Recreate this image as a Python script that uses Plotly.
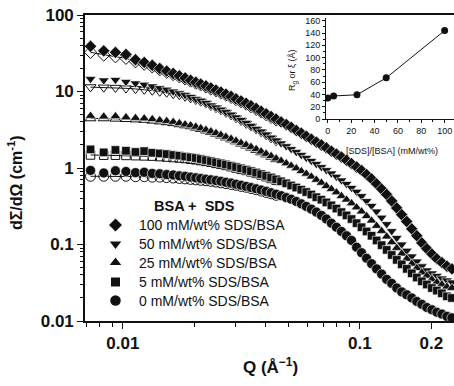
import plotly.graph_objects as go

# ---------------- data ----------------
q = [0.0073, 0.0083, 0.0093, 0.0103, 0.0113, 0.0123, 0.0133, 0.0143, 0.0153, 0.0163,
     0.0173, 0.0183, 0.0193, 0.0203, 0.0213, 0.0224, 0.0235, 0.0247, 0.0259, 0.0272,
     0.0286, 0.0300, 0.0315, 0.0331, 0.0347, 0.0365, 0.0383, 0.0402, 0.0422, 0.0443,
     0.0465, 0.0489, 0.0513, 0.0539, 0.0566, 0.0594, 0.0624, 0.0655, 0.0688, 0.0722,
     0.0758, 0.0796, 0.0836, 0.0878, 0.0922, 0.0968, 0.1016, 0.1067, 0.1120, 0.1176,
     0.1235, 0.1297, 0.1362, 0.1430, 0.1501, 0.1576, 0.1655, 0.1738, 0.1825, 0.1916,
     0.2012, 0.2112, 0.2218, 0.2329, 0.2445]

I_100 = [39, 34, 32.5, 30.5, 26, 24, 22, 20, 18.5, 17.2,
         16.0, 15.0, 14.0, 13.2, 12.5, 11.8, 11.1, 10.4, 9.8, 9.2,
         8.6, 8.0, 7.5, 7.0, 6.5, 6.0, 5.5, 5.1, 4.7, 4.35,
         4.0, 3.7, 3.4, 3.1, 2.85, 2.6, 2.38, 2.18, 2.0, 1.83,
         1.66, 1.52, 1.39, 1.26, 1.14, 1.03, 0.93, 0.82, 0.72, 0.62,
         0.53, 0.45, 0.37, 0.30, 0.245, 0.20, 0.16, 0.13, 0.105, 0.088,
         0.075, 0.065, 0.058, 0.052, 0.048]
I_50 = [14.6, 14.0, 14.2, 13.4, 12.8, 12.3, 11.7, 11.1, 10.6, 10.0,
        9.5, 9.0, 8.5, 8.0, 7.6, 7.1, 6.6, 6.2, 5.8, 5.4,
        5.0, 4.6, 4.25, 3.9, 3.55, 3.25, 3.0, 2.75, 2.5, 2.3,
        2.1, 1.93, 1.77, 1.62, 1.48, 1.36, 1.24, 1.13, 1.03, 0.94,
        0.85, 0.77, 0.69, 0.62, 0.55, 0.49, 0.43, 0.37, 0.32, 0.27,
        0.225, 0.185, 0.15, 0.122, 0.10, 0.083, 0.07, 0.06, 0.052, 0.046,
        0.042, 0.039, 0.036, 0.034, 0.032]
I_25 = [4.8, 4.7, 4.75, 4.6, 4.5, 4.45, 4.35, 4.2, 4.1, 4.0,
        3.85, 3.7, 3.6, 3.45, 3.3, 3.15, 3.0, 2.85, 2.7, 2.55,
        2.4, 2.26, 2.12, 2.0, 1.88, 1.76, 1.64, 1.53, 1.43, 1.33,
        1.24, 1.15, 1.07, 0.99, 0.91, 0.84, 0.77, 0.70, 0.64, 0.58,
        0.53, 0.48, 0.43, 0.385, 0.345, 0.305, 0.27, 0.235, 0.205, 0.175,
        0.15, 0.127, 0.107, 0.09, 0.076, 0.065, 0.056, 0.049, 0.043, 0.039,
        0.035, 0.032, 0.030, 0.028, 0.027]
I_5 = [1.75, 1.6, 1.72, 1.68, 1.62, 1.66, 1.58, 1.55, 1.52, 1.48,
       1.45, 1.41, 1.38, 1.35, 1.31, 1.27, 1.23, 1.19, 1.15, 1.11,
       1.07, 1.03, 0.99, 0.95, 0.91, 0.87, 0.83, 0.79, 0.75, 0.71,
       0.67, 0.63, 0.59, 0.555, 0.52, 0.485, 0.45, 0.415, 0.385, 0.355,
       0.325, 0.295, 0.265, 0.24, 0.215, 0.19, 0.168, 0.148, 0.13, 0.113,
       0.098, 0.085, 0.073, 0.063, 0.055, 0.048, 0.042, 0.037, 0.033, 0.030,
       0.027, 0.025, 0.023, 0.021, 0.020]
I_0 = [0.93, 0.86, 0.92, 0.90, 0.87, 0.88, 0.85, 0.84, 0.82, 0.81,
       0.79, 0.78, 0.76, 0.745, 0.73, 0.715, 0.70, 0.685, 0.67, 0.65,
       0.635, 0.615, 0.595, 0.575, 0.555, 0.535, 0.515, 0.495, 0.475, 0.455,
       0.435, 0.41, 0.39, 0.365, 0.34, 0.315, 0.29, 0.265, 0.24, 0.215,
       0.19, 0.168, 0.148, 0.13, 0.113, 0.092, 0.078, 0.066, 0.056, 0.048,
       0.041, 0.035, 0.031, 0.027, 0.024, 0.022, 0.020, 0.018, 0.0165, 0.015,
       0.014, 0.013, 0.0123, 0.0115, 0.011]

# open symbols (second data set) and fitted curve, low-Q part
O_100 = [32.5, 30.0, 28.5, 27.2, 24.5, 22.8, 21.0, 19.3, 17.9, 16.7, 15.6, 14.6, 13.7, 12.9, 12.2,
         11.5, 10.8, 10.2, 9.6, 9.0, 8.4, 7.85, 7.35, 6.85, 6.35, 5.85, 5.4, 5.0, 4.6, 4.25]
O_50 = [11.4, 11.3, 11.2, 11.0, 10.8, 10.6, 10.3, 10.0, 9.7, 9.3, 9.0, 8.6, 8.2, 7.8, 7.4,
        7.0, 6.5, 6.1, 5.7, 5.3, 4.9, 4.5, 4.15, 3.8, 3.5, 3.2, 2.95, 2.7, 2.45, 2.25]
O_25 = [4.45, 4.45, 4.4, 4.35, 4.3, 4.25, 4.15, 4.05, 3.95, 3.85, 3.72, 3.6, 3.5, 3.36, 3.22,
        3.08, 2.94, 2.8, 2.65, 2.5, 2.36, 2.22, 2.08, 1.96, 1.84, 1.72, 1.6, 1.5, 1.4, 1.3]
O_5 = [1.48, 1.47, 1.47, 1.46, 1.45, 1.44, 1.43, 1.41, 1.39, 1.37, 1.35, 1.33, 1.3, 1.28, 1.25,
       1.22, 1.19, 1.15, 1.12, 1.08, 1.04, 1.0, 0.96, 0.93, 0.89, 0.85, 0.81, 0.77, 0.73, 0.69]
O_0 = [0.78, 0.78, 0.78, 0.78, 0.77, 0.77, 0.76, 0.76, 0.75, 0.74, 0.73, 0.72, 0.71, 0.7, 0.69,
       0.68, 0.67, 0.655, 0.64, 0.625, 0.61, 0.595, 0.575, 0.56, 0.54, 0.52, 0.5, 0.48, 0.46, 0.44]
q_open = q[:30]

series_labels = ["100 mM/wt% SDS/BSA", "50 mM/wt% SDS/BSA", "25 mM/wt% SDS/BSA",
                 "5 mM/wt% SDS/BSA", "0 mM/wt% SDS/BSA"]
series_symbols = ["diamond", "triangle-down", "triangle-up", "square", "circle"]
series_sizes = [9.5, 9.5, 9.5, 8.5, 10]
filled = [I_100, I_50, I_25, I_5, I_0]
opened = [O_100, O_50, O_25, O_5, O_0]

# inset
conc = [0, 5, 25, 50, 100]
radius = [34, 37.5, 39.5, 67, 144]

xt_vals = [0.01, 0.1, 0.2]
xt_text = ["0.01", "0.1", "0.2"]
xt_minor = [0.007, 0.008, 0.009, 0.02, 0.03, 0.04, 0.05, 0.06, 0.07, 0.08, 0.09]
yt_vals = [0.01, 0.1, 1, 10, 100]
yt_text = ["0.01", "0.1", "1", "10", "100"]
yt_minor = [m * d for d in (0.01, 0.1, 1, 10) for m in range(2, 10)]

FONT = "Liberation Sans, Arial, Helvetica, sans-serif"
BLACK = "#111111"

# ---------------- figure ----------------
W, H = 454, 386
L, R, T, B = 85, 0, 15, 65
fig = go.Figure()

for i in range(5):
    fig.add_trace(go.Scatter(
        x=q_open, y=opened[i], mode="lines+markers",
        line=dict(color=BLACK, width=1),
        marker=dict(symbol=series_symbols[i] + "-open", size=series_sizes[i],
                    color=BLACK, line=dict(width=1, color=BLACK)),
        showlegend=False, xaxis="x", yaxis="y"))
    fig.add_trace(go.Scatter(
        x=q, y=filled[i], mode="markers", name=series_labels[i],
        marker=dict(symbol=series_symbols[i], size=series_sizes[i], color=BLACK,
                    line=dict(width=0.6, color="white")),
        showlegend=False, xaxis="x", yaxis="y"))

# inset trace
fig.add_trace(go.Scatter(
    x=conc, y=radius, mode="lines+markers",
    line=dict(color=BLACK, width=1),
    marker=dict(symbol="circle", size=7, color=BLACK),
    showlegend=False, xaxis="x2", yaxis="y2"))

# legend symbols on a pixel overlay axis
leg_x = [115.5] * 5
leg_y = [225, 244, 262.5, 282, 300.5]
for i in range(5):
    fig.add_trace(go.Scatter(
        x=[leg_x[i]], y=[leg_y[i]], mode="markers",
        marker=dict(symbol=series_symbols[i], size=series_sizes[i] + 0.5, color=BLACK),
        showlegend=False, xaxis="x3", yaxis="y3", hoverinfo="skip"))

pw, ph = W - L - R, H - T - B


def px_x(p):
    return (p - L) / pw


def px_y(p):
    return (H - B - p) / ph


tickfont = dict(family=FONT, size=17, color=BLACK, weight="bold")
fig.update_layout(
    width=W, height=H, autosize=False,
    margin=dict(l=L, r=R, t=T, b=B, pad=0),
    paper_bgcolor="white", plot_bgcolor="rgba(0,0,0,0)",
    xaxis=dict(type="log", range=[-2.160, -0.603], domain=[0, 1],
               tickmode="array", tickvals=xt_vals, ticktext=xt_text,
               ticks="outside", ticklen=6, tickwidth=1.3, tickcolor=BLACK,
               showline=True, linewidth=1.6, linecolor=BLACK, mirror=True,
               showgrid=False, zeroline=False, tickfont=tickfont,
               minor=dict(tickmode="array", tickvals=xt_minor, ticks="outside",
                          ticklen=4, tickwidth=1, tickcolor=BLACK, showgrid=False)),
    yaxis=dict(type="log", range=[-2, 2], domain=[0, 1],
               tickmode="array", tickvals=yt_vals, ticktext=yt_text,
               ticks="outside", ticklen=6, tickwidth=1.3, tickcolor=BLACK,
               showline=True, linewidth=1.6, linecolor=BLACK, mirror=False,
               showgrid=False, zeroline=False, tickfont=tickfont,
               minor=dict(tickmode="array", tickvals=yt_minor, ticks="outside",
                          ticklen=3.5, tickwidth=1, tickcolor=BLACK, showgrid=False)),
    xaxis2=dict(domain=[px_x(326), 1], range=[-1.5, 108], anchor="y2",
                tickmode="array", tickvals=[0, 20, 40, 60, 80, 100],
                ticks="outside", ticklen=3, tickwidth=0.8, tickcolor=BLACK,
                showline=True, linewidth=1, linecolor=BLACK, showgrid=False,
                zeroline=False, tickfont=dict(family=FONT, size=9, color=BLACK),
                minor=dict(tickmode="array", tickvals=[10, 30, 50, 70, 90], ticks="outside",
                           ticklen=2, tickwidth=0.8, tickcolor=BLACK)),
    yaxis2=dict(domain=[px_y(119), px_y(18)], range=[0, 164.5], anchor="x2",
                tickmode="array", tickvals=[0, 20, 40, 60, 80, 100, 120, 140, 160],
                ticks="outside", ticklen=3, tickwidth=0.8, tickcolor=BLACK,
                showline=True, linewidth=1, linecolor=BLACK, showgrid=False,
                zeroline=False, tickfont=dict(family=FONT, size=9, color=BLACK),
                minor=dict(tickmode="array", tickvals=[10, 30, 50, 70, 90, 110, 130, 150],
                           ticks="outside", ticklen=2, tickwidth=0.8, tickcolor=BLACK)),
    xaxis3=dict(domain=[0, 1], range=[L, W - R], visible=False, anchor="y3"),
    yaxis3=dict(domain=[0, 1], range=[H - B, T], visible=False, anchor="x3"),
)

ann = []
ann.append(dict(text="dΣ/dΩ (cm<sup>-1</sup>)", x=px_x(15), y=px_y(183), xref="paper", yref="paper",
                textangle=-90, showarrow=False, xanchor="center", yanchor="middle",
                font=dict(family=FONT, size=16, color=BLACK, weight="bold")))
ann.append(dict(text="Q (Å<sup>−1</sup>)", x=px_x(270), y=px_y(366), xref="paper", yref="paper",
                showarrow=False, xanchor="center", yanchor="middle",
                font=dict(family=FONT, size=17, color=BLACK, weight="bold")))
ann.append(dict(text="R<sub>g</sub> or ξ (Å)", x=px_x(293), y=px_y(70), xref="paper", yref="paper",
                textangle=-90, showarrow=False, xanchor="center", yanchor="middle",
                font=dict(family=FONT, size=9, color=BLACK)))
ann.append(dict(text="[SDS]/[BSA] (mM/wt%)", x=px_x(392), y=px_y(151), xref="paper", yref="paper",
                showarrow=False, xanchor="center", yanchor="middle",
                font=dict(family=FONT, size=9, color=BLACK)))
ann.append(dict(text="BSA +  SDS", x=px_x(194), y=px_y(206), xref="paper", yref="paper",
                showarrow=False, xanchor="center", yanchor="middle",
                font=dict(family=FONT, size=14.5, color=BLACK, weight="bold")))
for i in range(5):
    ann.append(dict(text=series_labels[i], x=px_x(137), y=px_y(leg_y[i]), xref="paper", yref="paper",
                    showarrow=False, xanchor="left", yanchor="middle",
                    font=dict(family=FONT, size=14, color=BLACK)))
fig.update_layout(annotations=ann)

fig.write_html("out.html")
